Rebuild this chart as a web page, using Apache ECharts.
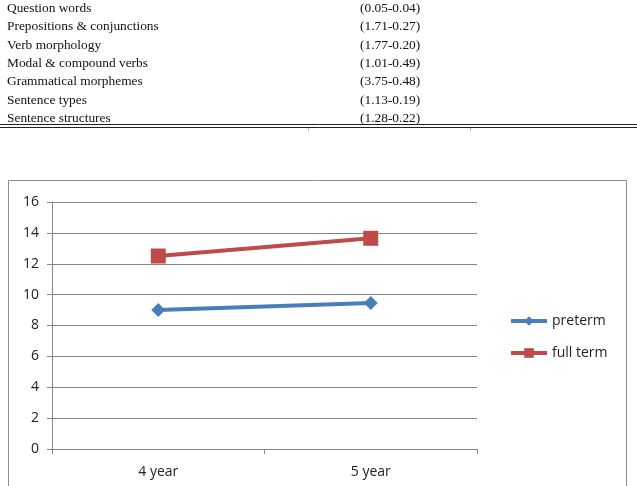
<!DOCTYPE html>
<html>
<head>
<meta charset="utf-8">
<script src="https://cdn.jsdelivr.net/npm/echarts@6/dist/echarts.min.js"></script>
<style>
  html, body { margin: 0; padding: 0; background: #fff; }
  #chart { width: 637px; height: 486px; }
</style>
</head>
<body>
<div id="chart"></div>
<script>
// table rows shown above the chart
const tableLabels = ['Question words', 'Prepositions & conjunctions', 'Verb morphology',
  'Modal & compound verbs', 'Grammatical morphemes', 'Sentence types', 'Sentence structures'];
const tableValues = ['(0.05-0.04)', '(1.71-0.27)', '(1.77-0.20)', '(1.01-0.49)',
  '(3.75-0.48)', '(1.13-0.19)', '(1.28-0.22)'];

// chart data
const ages = ['4 year', '5 year'];
const preterm = [9.0, 9.45];
const fullTerm = [12.5, 13.65];

const chart = echarts.init(document.getElementById('chart'));

// table text as graphic elements
const tableGraphics = [];
tableLabels.forEach((label, i) => {
  const y = 9 + i * 18.3;
  tableGraphics.push({
    type: 'text', left: 7, top: y - 7,
    style: { text: label, font: '13.4px "Liberation Serif"', fill: '#111' }
  });
  tableGraphics.push({
    type: 'text', left: 360, top: y - 7,
    style: { text: tableValues[i], font: '13.4px "Liberation Serif"', fill: '#111' }
  });
});

const option = {
  animation: false,
  graphic: [
    ...tableGraphics,
    // double rule under the table
    { type: 'line', shape: { x1: 0, y1: 124.5, x2: 637, y2: 124.5 }, style: { stroke: '#222', lineWidth: 1 } },
    { type: 'line', shape: { x1: 0, y1: 127.5, x2: 637, y2: 127.5 }, style: { stroke: '#222', lineWidth: 1 } },
    { type: 'line', shape: { x1: 308.5, y1: 128, x2: 308.5, y2: 131 }, style: { stroke: '#bbb', lineWidth: 1 } },
    { type: 'line', shape: { x1: 470.5, y1: 128, x2: 470.5, y2: 131 }, style: { stroke: '#bbb', lineWidth: 1 } },
    // chart frame
    { type: 'rect', shape: { x: 8.5, y: 180.5, width: 618, height: 330 }, style: { fill: 'none', stroke: '#8c8c8c', lineWidth: 1 }, z: -1 }
  ],
  grid: { left: 52, top: 202, width: 425, height: 247 },
  legend: {
    orient: 'vertical',
    left: 504,
    top: 309,
    itemWidth: 36,
    itemHeight: 12,
    itemGap: 18,
    lineStyle: { width: 4 },
    textStyle: { fontFamily: 'Open Sans', fontSize: 14, color: '#222' },
    data: ['preterm', 'full term']
  },
  xAxis: {
    type: 'category',
    data: ages,
    boundaryGap: true,
    axisLine: { lineStyle: { color: '#868686', width: 1 } },
    axisTick: { show: true, length: 5, lineStyle: { color: '#868686' } },
    axisLabel: { color: '#222', fontFamily: 'Open Sans', fontSize: 14, margin: 16 }
  },
  yAxis: {
    type: 'value',
    min: 0,
    max: 16,
    interval: 2,
    axisLine: { show: true, lineStyle: { color: '#868686', width: 1 } },
    axisTick: { show: true, length: 5, lineStyle: { color: '#868686' } },
    axisLabel: { color: '#222', fontFamily: 'Open Sans', fontSize: 14, margin: 13 },
    splitLine: { lineStyle: { color: '#868686', width: 1 } }
  },
  series: [
    {
      name: 'preterm',
      type: 'line',
      data: preterm,
      symbol: 'diamond',
      symbolSize: 14,
      color: '#4a7ebb',
      lineStyle: { width: 4, color: '#4a7ebb' },
      itemStyle: { color: '#4a7ebb' }
    },
    {
      name: 'full term',
      type: 'line',
      data: fullTerm,
      symbol: 'rect',
      symbolSize: 15,
      color: '#be4b48',
      lineStyle: { width: 4, color: '#be4b48' },
      itemStyle: { color: '#be4b48' }
    }
  ]
};

chart.setOption(option);
</script>
</body>
</html>
